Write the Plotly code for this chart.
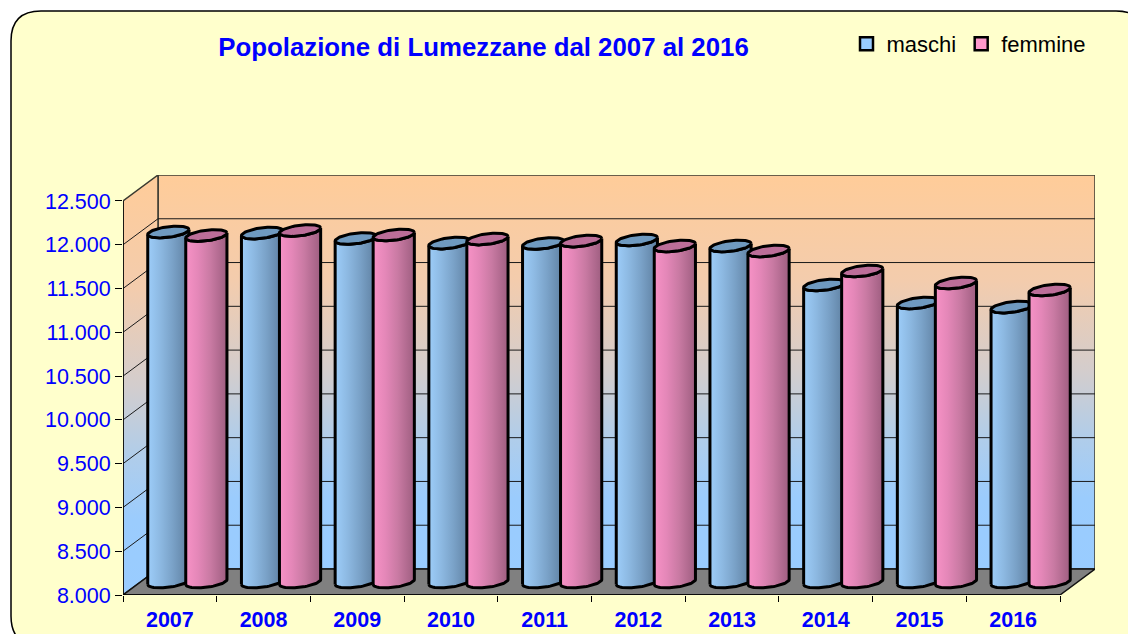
import numpy as np
import plotly.graph_objects as go

# ---- data ----
years = ["2007", "2008", "2009", "2010", "2011", "2012", "2013", "2014", "2015", "2016"]
maschi = [11997, 11985, 11923, 11871, 11866, 11906, 11837, 11392, 11186, 11140]
femmine = [11957, 12014, 11963, 11917, 11894, 11837, 11780, 11552, 11415, 11335]
y_ticks = [8000, 8500, 9000, 9500, 10000, 10500, 11000, 11500, 12000, 12500]
y_labels = ["8.000", "8.500", "9.000", "9.500", "10.000", "10.500", "11.000", "11.500", "12.000", "12.500"]

W, H = 1128, 634
# plot geometry in pixels
PX_L, PX_R, PX_T, PX_B = 123.0, 1095.0, 175.0, 595.0
CAT_PX = 93.7
VAL_PX = 43.78 / 500
X_MAX = (PX_R - PX_L) / CAT_PX
Y_MIN = 8000
Y_MAX = Y_MIN + (PX_B - PX_T) / VAL_PX
DX = 35 / CAT_PX          # depth offset, x
DY = 26 / VAL_PX          # depth offset, y
N = len(years)
Y_TOP = y_ticks[-1]


def px_x(p):
    return p / CAT_PX


def px_y(p):
    return p / VAL_PX


fig = go.Figure()


def poly(xs, ys, fill=None, line="black", width=1.5, grad=None):
    kw = {}
    if grad is not None:
        kw["fillgradient"] = grad
    elif fill is not None:
        kw["fillcolor"] = fill
    fig.add_trace(go.Scatter(
        x=list(xs), y=list(ys), mode="lines",
        fill="toself" if (fill or grad) else "none",
        line=dict(color=line, width=width),
        hoverinfo="skip", showlegend=False, **kw))


wall_grad = dict(type="vertical", colorscale=[[0, "#99CCFF"], [0.18, "#9BCCFD"], [0.33, "#B0CDEA"],
                                              [0.5, "#D3CDCD"], [0.73, "#F3CCAD"], [1, "#FFCC99"]])
WALL_EDGE = "#3a3a30"

# back wall
poly([DX, X_MAX, X_MAX, DX, DX],
     [Y_MIN + DY, Y_MIN + DY, Y_TOP + DY, Y_TOP + DY, Y_MIN + DY],
     grad=wall_grad, line=WALL_EDGE, width=1.5)
# left wall
poly([0, DX, DX, 0, 0],
     [Y_MIN, Y_MIN + DY, Y_TOP + DY, Y_TOP, Y_MIN],
     grad=wall_grad, line=WALL_EDGE, width=1.5)
# floor
poly([0, DX, X_MAX, X_MAX - DX, 0],
     [Y_MIN, Y_MIN + DY, Y_MIN + DY, Y_MIN, Y_MIN],
     fill="#808080", line="#111111", width=1.5)

# gridlines on both walls
gx, gy = [], []
for v in y_ticks[1:-1]:
    gx += [0, DX, X_MAX, None]
    gy += [v, v + DY, v + DY, None]
fig.add_trace(go.Scatter(x=gx, y=gy, mode="lines", line=dict(color="#1a1a1a", width=1),
                         hoverinfo="skip", showlegend=False))

# cylinders
R_A = px_x(20.6)    # half width
R_B = px_y(5.3)     # half height of the top ellipse
TILT = px_y(2.5)    # rise of the right end of the ellipse
PITCH = px_x(38.0)
T = np.linspace(0, 2 * np.pi, 73)


def ell(cx, cy, t):
    return cx + R_A * np.cos(t), cy + R_B * np.sin(t) + TILT * np.cos(t)


def cylinder(i, side, value, body_cols, top_col):
    cx = i + 0.5 + DX / 2 + side * PITCH / 2
    base = Y_MIN + DY / 2
    top = base + (value - Y_MIN)
    low = np.linspace(np.pi, 2 * np.pi, 37)
    bx, by = ell(cx, base, low)
    tx, ty = ell(cx, top, low[::-1])
    poly(np.r_[bx, tx, bx[0]], np.r_[by, ty, by[0]],
         grad=dict(type="horizontal", colorscale=body_cols), line="black", width=3)
    ex, ey = ell(cx, top, T)
    poly(ex, ey, fill=top_col, line="black", width=3)


blue_body = [[0, "#9DCDF9"], [0.3, "#8DB9E2"], [0.6, "#7AA2C8"], [1, "#5E7FA0"]]
pink_body = [[0, "#F792C6"], [0.3, "#E487B8"], [0.6, "#C97AA3"], [1, "#9E5E80"]]
for i in range(N):
    cylinder(i, -1, maschi[i], blue_body, "#6F9AC0")
    cylinder(i, 1, femmine[i], pink_body, "#BC6E99")

# front edges of the floor
fig.add_trace(go.Scatter(x=[0, 0, X_MAX - DX], y=[Y_TOP, Y_MIN, Y_MIN], mode="lines",
                         line=dict(color="black", width=1.5), hoverinfo="skip", showlegend=False))

# legend entries
for name, col in (("maschi", "#99CCFF"), ("femmine", "#FF99CC")):
    fig.add_trace(go.Scatter(x=[None], y=[None], mode="markers", name=name,
                             marker=dict(symbol="square", size=13, color=col,
                                         line=dict(color="black", width=2.5))))

fig.update_layout(
    width=W, height=H, autosize=False,
    margin=dict(l=0, r=0, t=0, b=0, autoexpand=False),
    paper_bgcolor="white", plot_bgcolor="rgba(0,0,0,0)",
    font=dict(family="Liberation Sans, Arial, sans-serif", color="black"),
    title=dict(text="<b>Popolazione di Lumezzane dal 2007 al 2016</b>",
               x=483.5 / W, xanchor="center", y=1 - 47 / H, yanchor="middle",
               font=dict(size=25.8, color="#0000FF")),
    legend=dict(orientation="h", x=846.5 / W, y=1 - 44 / H, xanchor="left", yanchor="middle",
                bgcolor="rgba(0,0,0,0)", font=dict(size=22, color="black"),
                traceorder="normal"),
    xaxis=dict(domain=[PX_L / W, PX_R / W], range=[0, X_MAX], showgrid=False, zeroline=False,
               showline=False, tickmode="array", tickvals=[i + 0.5 for i in range(N)],
               ticktext=[f"<b>{y}</b>" for y in years], ticks="", ticklabelstandoff=9,
               tickfont=dict(size=21.5, color="#0000FF"),
               minor=dict(tickmode="array", tickvals=list(range(N + 1)), ticks="outside",
                          ticklen=6, tickwidth=1, tickcolor="black", showgrid=False)),
    yaxis=dict(domain=[1 - PX_B / H, 1 - PX_T / H], range=[Y_MIN, Y_MAX], showgrid=False,
               zeroline=False, showline=False, tickmode="array", tickvals=y_ticks,
               ticktext=y_labels, ticks="outside", ticklen=7, tickwidth=1, tickcolor="black",
               tickfont=dict(size=21.5, color="#0000FF")),
    shapes=[dict(type="path", xref="paper", yref="paper", layer="below",
                 path=("M {l},{t1} Q {l},{t} {l1},{t} L {r1},{t} Q {r},{t} {r},{t1} "
                       "L {r},{b1} Q {r},{b} {r1},{b} L {l1},{b} Q {l},{b} {l},{b1} Z").format(
                     l=11 / W, l1=41 / W, r=1146 / W, r1=1116 / W,
                     t=1 - 11 / H, t1=1 - 41 / H, b=1 - 646 / H, b1=1 - 616 / H),
                 fillcolor="#FFFFCC", line=dict(color="black", width=1.5))],
)

fig.write_html("out.html", config={"displayModeBar": False},
               post_script="document.body.style.margin='0';document.body.style.overflow='hidden';")
